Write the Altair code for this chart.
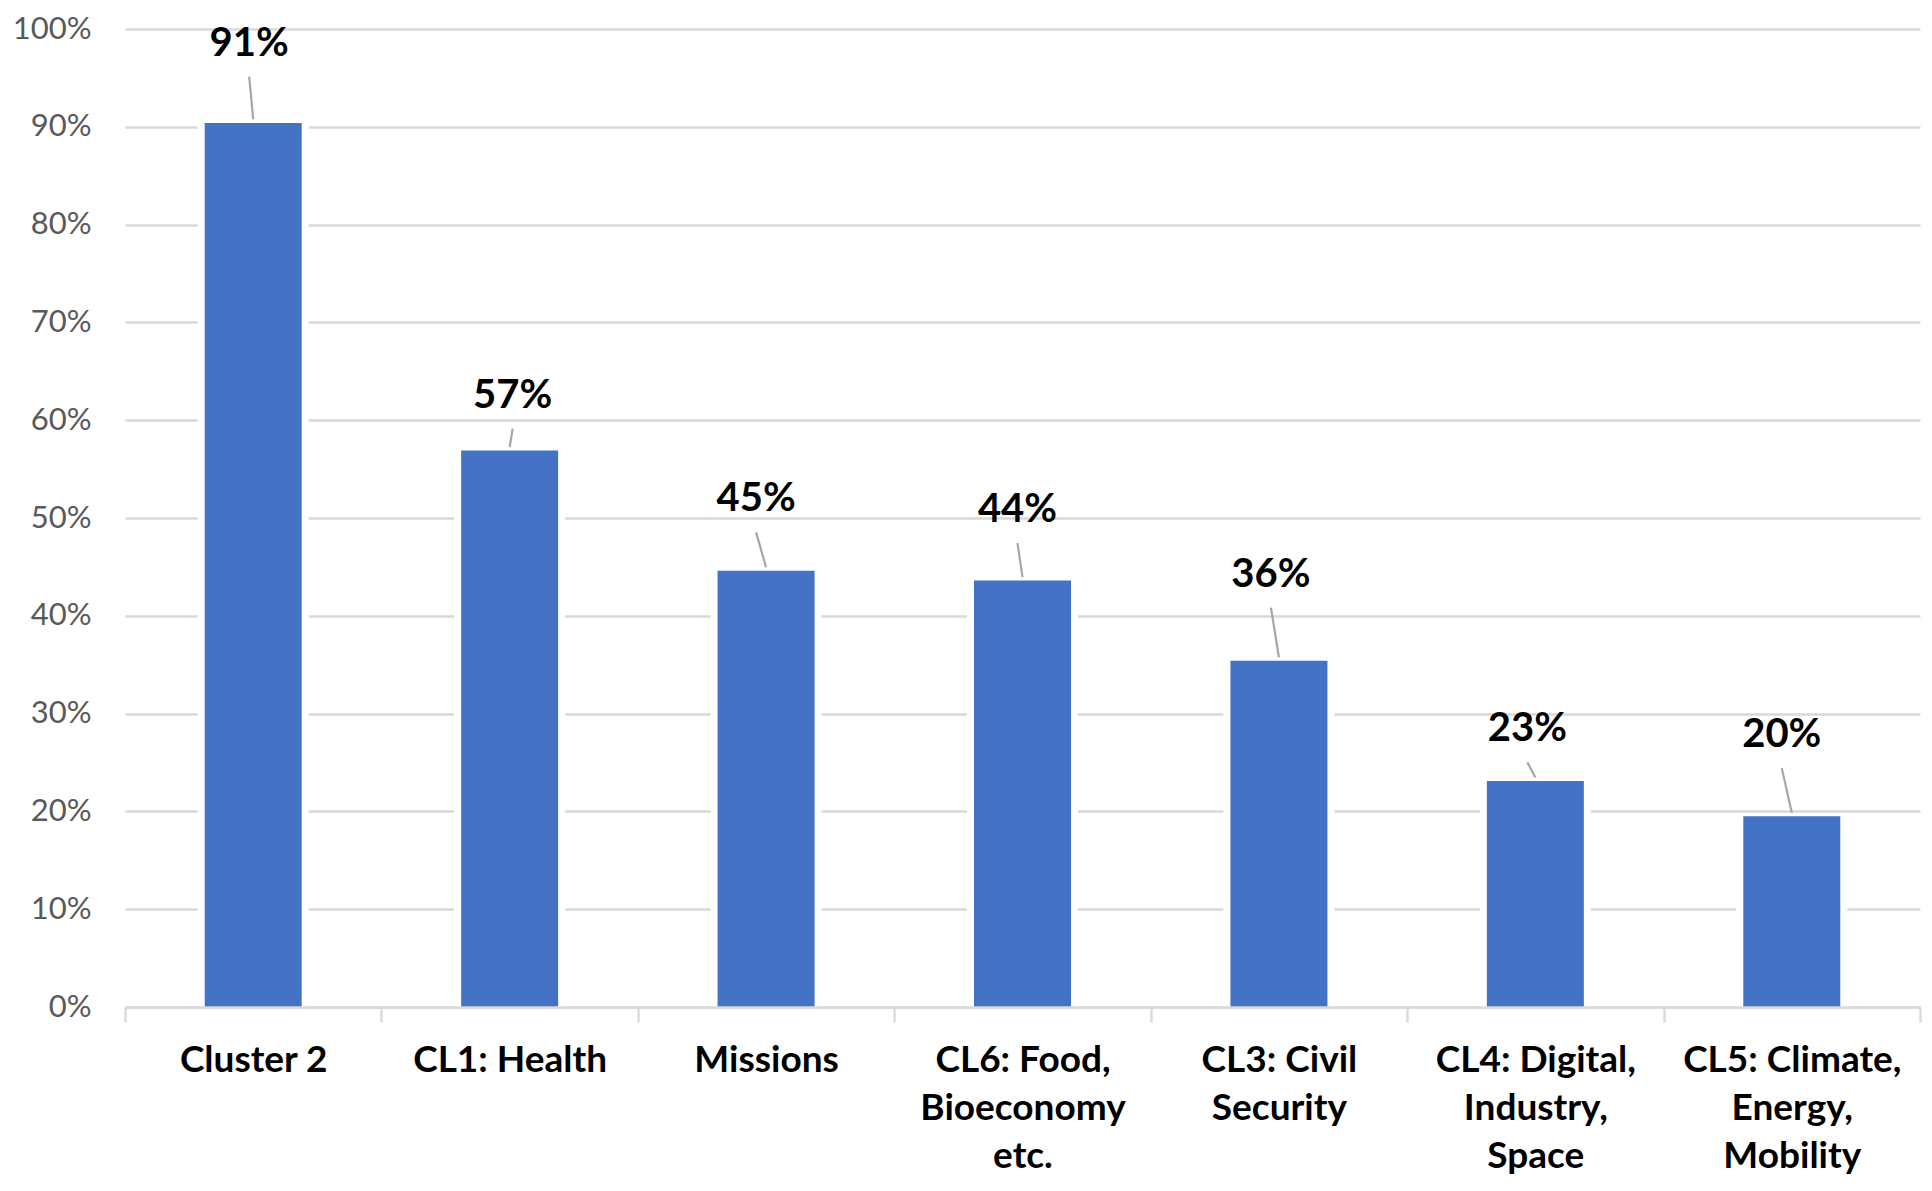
import altair as alt
import pandas as pd

# ---- data ----
categories = [
    "Cluster 2",
    "CL1: Health",
    "Missions",
    "CL6: Food,\nBioeconomy\netc.",
    "CL3: Civil\nSecurity",
    "CL4: Digital,\nIndustry,\nSpace",
    "CL5: Climate,\nEnergy,\nMobility",
]
values = [0.904, 0.569, 0.446, 0.436, 0.354, 0.231, 0.195]
labels = ["91%", "57%", "45%", "44%", "36%", "23%", "20%"]
# where the (manually placed) data labels sit, in value units
label_pos = [0.985, 0.625, 0.519, 0.508, 0.442, 0.284, 0.278]
# horizontal nudge of each data label, in px
label_nudge = [-4, 3, -10, -5, -8, -8, -10]

WIDTH = 1795
HEIGHT = 978
BW = WIDTH / len(categories)

df = pd.DataFrame({
    "category": categories,
    "value": values,
    "label": labels,
    "label_pos": label_pos,
    "idx": list(range(len(categories))),
    "nudge": label_nudge,
})
df["tx"] = df["idx"] + df["nudge"] / BW
df["bx"] = df["idx"].astype(float)
df["ly"] = df["label_pos"] - 33 / HEIGHT
df["by"] = df["value"] + 3.5 / HEIGHT

xq = alt.Scale(domain=[-0.5, len(categories) - 0.5], nice=False, zero=False)
yscale = alt.Scale(domain=[0, 1], nice=False)

base = alt.Chart(df)

xband = alt.X(
    "category:N",
    sort=categories,
    scale=alt.Scale(paddingInner=0, paddingOuter=0),
    title=None,
    axis=alt.Axis(
        labelAngle=0,
        labelFont="Lato",
        labelFontWeight="bold",
        labelFontSize=37,
        labelColor="#000000",
        labelLineHeight=48,
        labelBaseline="top",
        labelPadding=20,
        labelLimit=500,
        labelExpr="split(datum.label, '\\n')",
        domainColor="#d9d9d9",
        domainWidth=2.3,
        tickColor="#d9d9d9",
        tickWidth=2.3,
        tickSize=15,
        tickBand="extent",
        grid=False,
        zindex=1,
    ),
)

yaxis = alt.Axis(
    values=[i / 10 for i in range(11)],
    format=".0%",
    labelFont="Lato",
    labelFontSize=31,
    labelColor="#595959",
    labelPadding=34,
    grid=True,
    gridColor="#d9d9d9",
    gridWidth=2.3,
    domain=False,
    ticks=False,
    title=None,
    zindex=0,
)

halo = base.mark_bar(size=111, color="#ffffff").encode(
    x=alt.X("category:N", sort=categories,
            scale=alt.Scale(paddingInner=0, paddingOuter=0), axis=None),
    y=alt.Y("value:Q", scale=yscale, axis=yaxis),
)

bars = base.mark_bar(size=97, color="#4472C4").encode(
    x=xband,
    y=alt.Y("value:Q", scale=yscale, axis=yaxis),
)

leaders = base.mark_rule(color="#a6a6a6", strokeWidth=2.2).encode(
    x=alt.X("tx:Q", scale=xq, axis=None),
    x2="bx:Q",
    y=alt.Y("ly:Q", scale=yscale, axis=yaxis),
    y2="by:Q",
)

texts = base.mark_text(
    font="Lato", fontWeight="bold", fontSize=40, color="#000000",
    baseline="middle", align="center",
).encode(
    x=alt.X("tx:Q", scale=xq, axis=None),
    y=alt.Y("label_pos:Q", scale=yscale, axis=yaxis),
    text="label:N",
)

chart = (
    alt.layer(halo, bars, leaders, texts)
    .resolve_scale(x="independent")
    .properties(
        width=WIDTH,
        height=HEIGHT,
        padding={"left": 117, "top": 21, "right": 2, "bottom": 169},
        autosize=alt.AutoSizeParams(type="none"),
        background="#ffffff",
    )
    .configure_view(stroke=None)
)

chart.save("out.html", embed_options={"renderer": "svg", "actions": False})
